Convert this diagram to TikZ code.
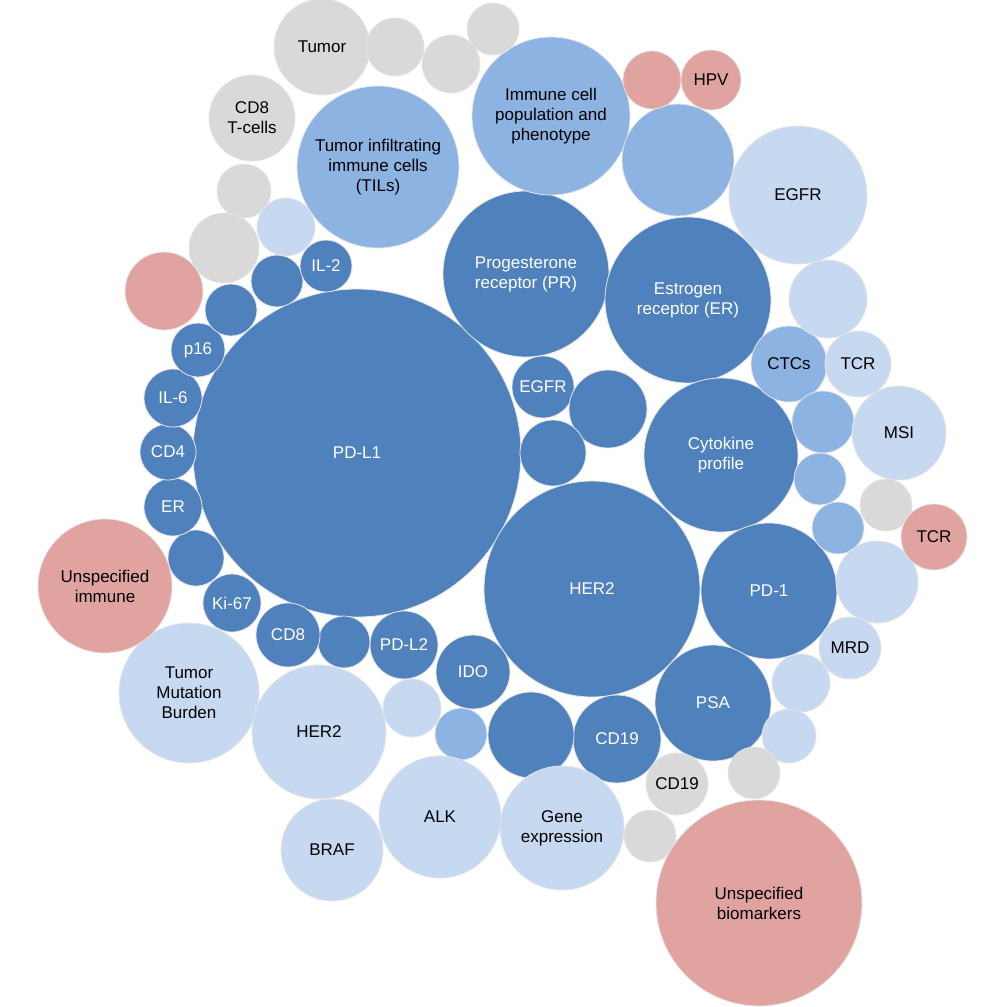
\documentclass[tikz,border=0pt]{standalone}
\usepackage{fontspec}
\setmainfont{Liberation Sans}
\definecolor{dkb}{HTML}{4F81BD}
\definecolor{mdb}{HTML}{8DB3E2}
\definecolor{ltb}{HTML}{C6D9F1}
\definecolor{gry}{HTML}{D9D9D9}
\definecolor{red}{HTML}{E0A3A0}
\tikzset{
 bub/.style={circle,draw=white!80!gray,line width=0.8pt,inner sep=0pt,align=center,font=\fontsize{17}{20}\selectfont},
 dk/.style={bub,fill=dkb,text=white},
 md/.style={bub,fill=mdb,text=black},
 lt/.style={bub,fill=ltb,text=black},
 gr/.style={bub,fill=gry,text=black},
 rd/.style={bub,fill=red,text=black}}
\newcommand{\bb}[6]{\node[#5,minimum size=#4*2pt] (#1) at (#2,#3) {#6};}
\begin{document}
\begin{tikzpicture}[x=1pt,y=-1pt]
\useasboundingbox (0,0) rectangle (1007,1007);
\bb{a1}{357}{453}{164}{dk}{PD-L1}
\bb{a2}{592}{589}{108}{dk}{HER2}
\bb{a3}{526}{274}{83}{dk}{Progesterone\\receptor (PR)}
\bb{a4}{688}{300}{83}{dk}{Estrogen\\receptor (ER)}
\bb{a5}{721}{455}{77}{dk}{Cytokine\\profile}
\bb{a6}{769}{591}{68}{dk}{PD-1}
\bb{a7}{713}{703}{58}{dk}{PSA}
\bb{a8}{617}{739}{44}{dk}{CD19}
\bb{a9}{473}{672}{37}{dk}{IDO}
\bb{a10}{531}{735}{43}{dk}{}
\bb{a11}{404}{645}{34}{dk}{PD-L2}
\bb{a12}{344}{642}{26}{dk}{}
\bb{a13}{288}{635}{32}{dk}{CD8}
\bb{a14}{232}{603}{29}{dk}{Ki-67}
\bb{a15}{196}{558}{28}{dk}{}
\bb{a16}{173}{507}{29}{dk}{ER}
\bb{a17}{168}{452}{28}{dk}{CD4}
\bb{a18}{173}{398}{29}{dk}{IL-6}
\bb{a19}{198}{350}{27}{dk}{p16}
\bb{a20}{231}{310}{26}{dk}{}
\bb{a21}{277}{281}{26}{dk}{}
\bb{a22}{326}{266}{26}{dk}{IL-2}
\bb{a23}{543}{387}{31}{dk}{EGFR}
\bb{a24}{608}{409}{39}{dk}{}
\bb{a25}{553}{453}{33}{dk}{}
\bb{b1}{378}{167}{81}{md}{Tumor infiltrating\\immune cells\\(TILs)}
\bb{b2}{551}{116}{79}{md}{Immune cell\\population and\\phenotype}
\bb{b3}{678}{160}{56}{md}{}
\bb{b4}{789}{364}{38}{md}{CTCs}
\bb{b5}{823}{422}{31}{md}{}
\bb{b6}{820}{479}{26}{md}{}
\bb{b7}{838}{528}{26}{md}{}
\bb{b8}{461}{734}{26}{md}{}
\bb{c1}{798}{195}{69}{lt}{EGFR}
\bb{c2}{828}{299}{39}{lt}{}
\bb{c3}{858}{364}{33}{lt}{TCR}
\bb{c4}{899}{433}{47}{lt}{MSI}
\bb{c5}{877}{582}{41}{lt}{}
\bb{c6}{850}{648}{31}{lt}{MRD}
\bb{c7}{801}{683}{29}{lt}{}
\bb{c8}{789}{736}{27}{lt}{}
\bb{c9}{286}{227}{29}{lt}{}
\bb{c10}{189}{693}{70}{lt}{Tumor\\Mutation\\Burden}
\bb{c11}{319}{732}{67}{lt}{HER2}
\bb{c12}{412}{708}{29}{lt}{}
\bb{c13}{440}{817}{61}{lt}{ALK}
\bb{c14}{562}{828}{62}{lt}{Gene\\expression}
\bb{c15}{332}{850}{51}{lt}{BRAF}
\bb{d1}{322}{47}{48}{gr}{Tumor}
\bb{d2}{395}{47}{29}{gr}{}
\bb{d3}{451}{64}{29}{gr}{}
\bb{d4}{493}{29}{26}{gr}{}
\bb{d5}{252}{118}{43}{gr}{CD8\\T-cells}
\bb{d6}{244}{191}{27}{gr}{}
\bb{d7}{224}{248}{35}{gr}{}
\bb{d8}{886}{505}{26}{gr}{}
\bb{d9}{754}{773}{26}{gr}{}
\bb{d10}{677}{784}{31}{gr}{CD19}
\bb{d11}{650}{836}{26}{gr}{}
\bb{e1}{711}{80}{30}{rd}{HPV}
\bb{e2}{652}{80}{29}{rd}{}
\bb{e3}{105}{586}{67}{rd}{Unspecified\\immune}
\bb{e4}{164}{291}{39}{rd}{}
\bb{e5}{934}{537}{33}{rd}{TCR}
\bb{e6}{759}{903}{103}{rd}{Unspecified\\biomarkers}
\end{tikzpicture}
\end{document}
